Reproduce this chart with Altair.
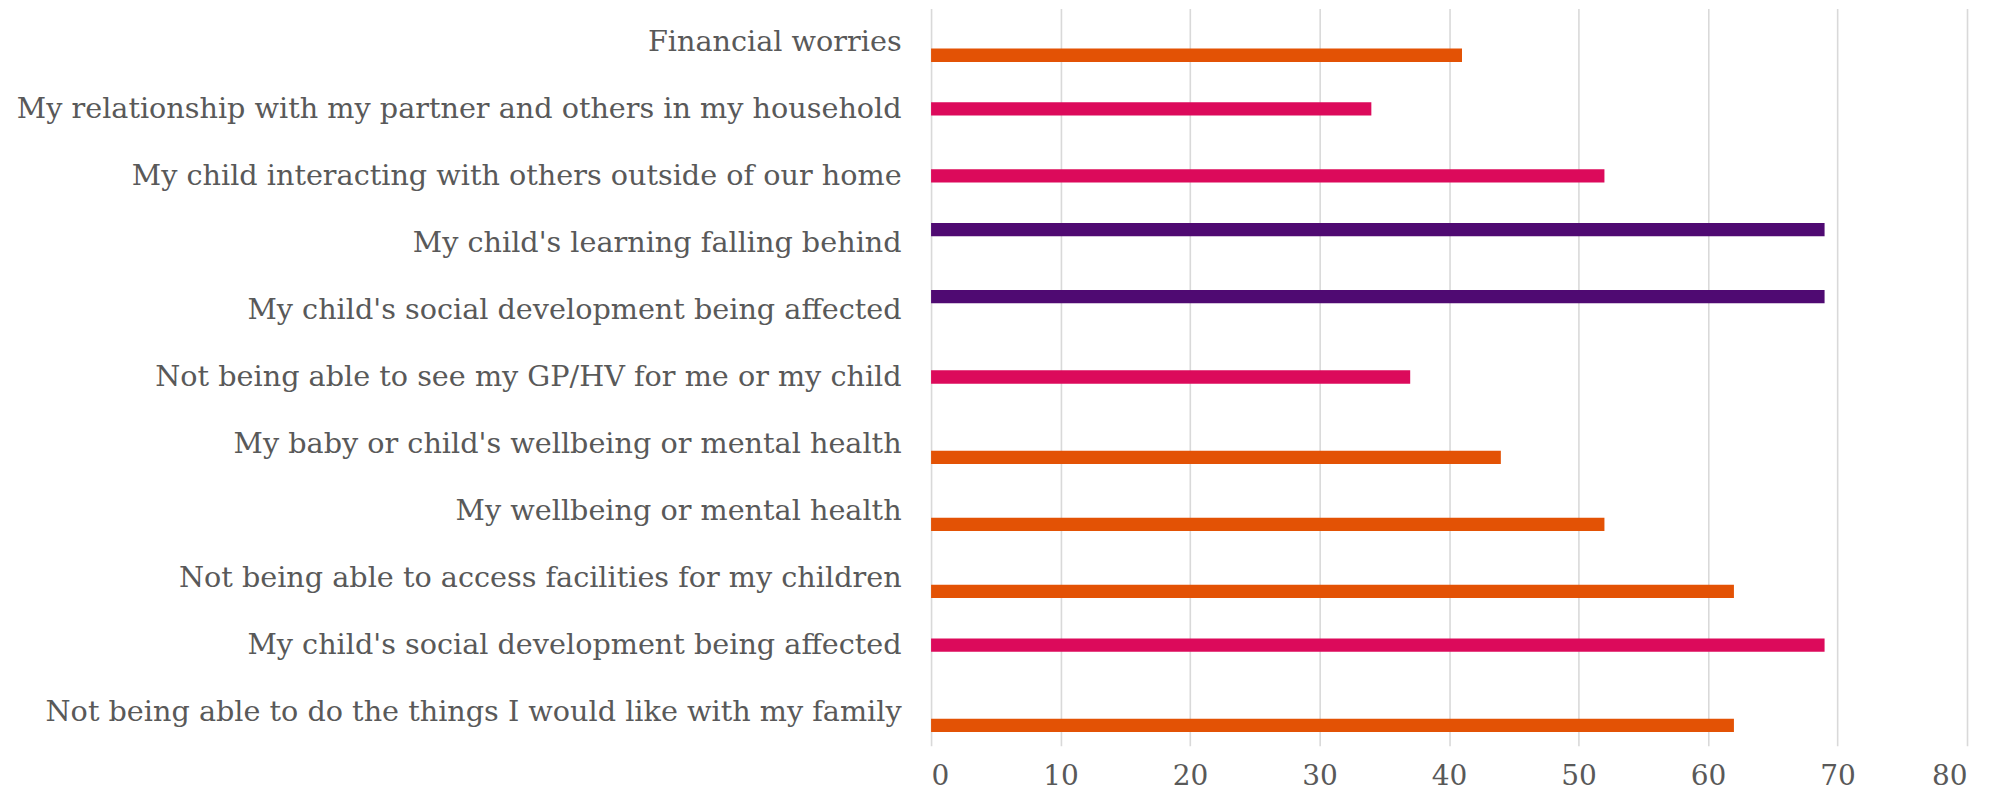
import altair as alt
import pandas as pd

labels = [
    "Financial worries",
    "My relationship with my partner and others in my household",
    "My child interacting with others outside of our home",
    "My child's learning falling behind",
    "My child's social development being affected",
    "Not being able to see my GP/HV for me or my child",
    "My baby or child's wellbeing or mental health",
    "My wellbeing or mental health",
    "Not being able to access facilities for my children",
    "My child's social development being affected",
    "Not being able to do the things I would like with my family",
]
values = [41, 34, 52, 69, 69, 37, 44, 52, 62, 69, 62]
series = ["orange", "pink", "pink", "purple", "purple", "pink",
          "orange", "orange", "orange", "pink", "orange"]

series_order = ["purple", "pink", "orange"]
series_colors = ["#4F0A72", "#DC0A5B", "#E35205"]
x_ticks = [0, 10, 20, 30, 40, 50, 60, 70, 80]

df = pd.DataFrame({
    "idx": [str(i) for i in range(len(labels))],
    "value": values,
    "series": series,
})

label_expr = "[" + ",".join("'" + l.replace("'", "\\'") + "'" for l in labels) + "][toNumber(datum.value)]"

chart = alt.Chart(df).mark_bar().encode(
    x=alt.X("value:Q",
            scale=alt.Scale(domain=[0, 80], nice=False),
            axis=alt.Axis(values=x_ticks, title=None, grid=True, domain=False,
                          ticks=False, labelPadding=17, labelFontSize=28,
                          labelColor="#595959", labelFont="DejaVu Serif",
                          gridColor="#d9d9d9", gridWidth=1.6)),
    y=alt.Y("idx:N", sort=[str(i) for i in range(len(labels))],
            scale=alt.Scale(paddingInner=0.404, paddingOuter=0.202),
            axis=alt.Axis(title=None, labelExpr=label_expr, domain=False,
                          ticks=False, labelPadding=30, labelFontSize=28.7,
                          labelColor="#595959", labelFont="DejaVu Serif",
                          labelLimit=2000)),
    yOffset=alt.YOffset("series:N", sort=series_order,
                        scale=alt.Scale(domain=series_order, paddingInner=0, paddingOuter=0)),
    color=alt.Color("series:N", scale=alt.Scale(domain=series_order, range=series_colors),
                    legend=None),
).properties(
    width=1037,
    height=738,
    autosize=alt.AutoSizeParams(type="none"),
    padding={"left": 924, "top": 0, "right": 20, "bottom": 46},
).configure_view(stroke=None)

chart.save("out.html", embed_options={"renderer": "svg", "actions": False})
